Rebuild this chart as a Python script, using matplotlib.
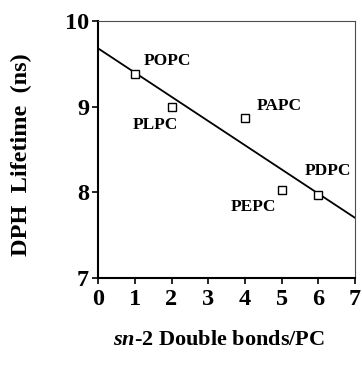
import matplotlib
matplotlib.use("Agg")
import matplotlib.pyplot as plt

# data
bonds = [1, 2, 4, 5, 6]
lifetime = [9.38, 9.00, 8.87, 8.03, 7.97]
names = ['POPC', 'PLPC', 'PAPC', 'PEPC', 'PDPC']
label_pos = [(1.23, 9.53), (0.95, 8.79), (4.33, 9.01), (3.6, 7.83), (5.64, 8.25)]
fit_x = [0, 7]
fit_y = [9.68, 7.70]

plt.rcParams['font.family'] = ['Liberation Serif', 'DejaVu Serif']
plt.rcParams['font.weight'] = 'bold'
plt.rcParams['mathtext.fontset'] = 'custom'
plt.rcParams['mathtext.it'] = 'Liberation Serif:italic:bold'
plt.rcParams['mathtext.rm'] = 'Liberation Serif:bold'

fig = plt.figure(figsize=(3.62, 3.68), dpi=100)
ax = fig.add_axes([0.271, 0.245, 0.710, 0.698])

ax.plot(fit_x, fit_y, color='black', lw=1.3)
ax.plot(bonds, lifetime, 's', ms=6, mfc='white', mec='black', mew=1.0)
for n, (tx, ty) in zip(names, label_pos):
    ax.text(tx, ty, n, fontsize=12.5, fontweight='bold', ha='left', va='center')

ax.set_xlim(0, 7)
ax.set_ylim(7, 10)
ax.set_xticks(range(0, 8))
ax.set_yticks([7, 8, 9, 10])
ax.tick_params(direction='out', length=4, width=1.2, labelsize=17.5)
ax.tick_params(axis='x', pad=4)
ax.tick_params(axis='y', pad=2.5)
for lab in ax.get_xticklabels() + ax.get_yticklabels():
    lab.set_fontweight('bold')
for s in ['left', 'bottom']:
    ax.spines[s].set_linewidth(1.5)
for s in ['top', 'right']:
    ax.spines[s].set_linewidth(0.8)
    ax.spines[s].set_color('0.3')

fig.text(0.058, 0.58, 'DPH  Lifetime  (ns)', fontsize=17.5, fontweight='bold',
         rotation=90, ha='center', va='center')
fig.text(0.605, 0.077, r'$\mathit{sn}$-2 Double bonds/PC', fontsize=16,
         fontweight='bold', ha='center', va='center')

fig.savefig('out.png', dpi=100)
